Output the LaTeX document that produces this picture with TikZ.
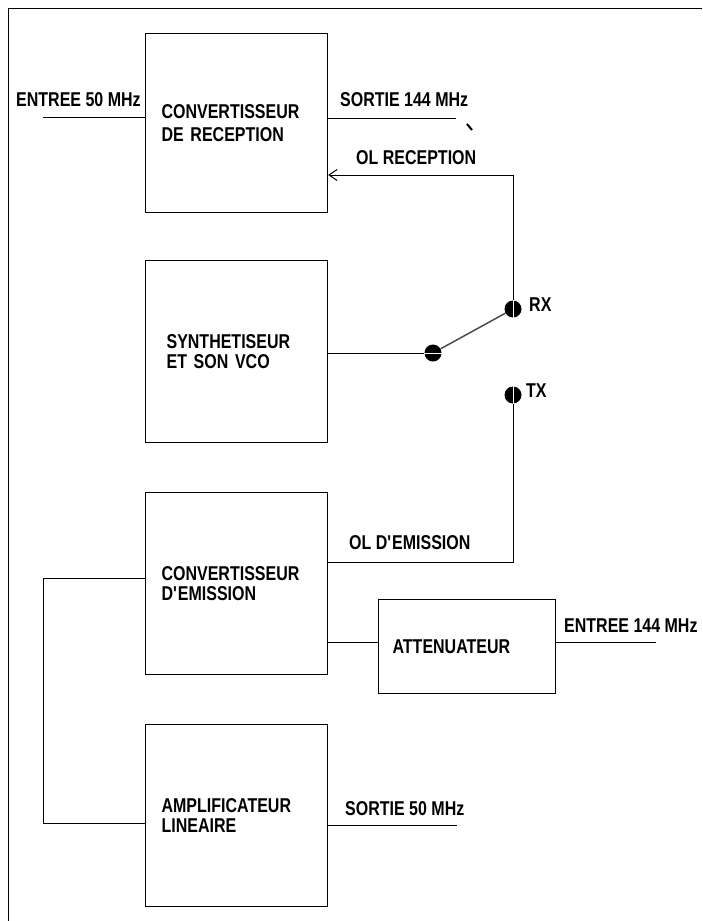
\documentclass[tikz,border=0pt]{standalone}
\usepackage{fontspec}
\setmainfont{Liberation Sans}[FakeStretch=0.8]
\usetikzlibrary{
    arrows.meta,
    calc,
    positioning
}

\begin{document}
\begin{tikzpicture}[x=1pt, y=-1pt,
    bloc/.style={draw, line width=1.2pt, anchor=north west, align=left,
        text width=150pt, inner xsep=16pt, minimum width=182pt, minimum height=182pt,
        font=\fontsize{20}{20}\selectfont\bfseries},
    etiq/.style={anchor=west, inner sep=0pt, font=\fontsize{20}{20}\selectfont\bfseries},
    fil/.style={line width=1pt},
    contact/.style={circle, fill=black, inner sep=0pt, minimum size=17pt}]
    \useasboundingbox (0,0) rectangle (702,921);

    % cadre
    \draw[fil] (8,921) -- (8,8) -- (702,8);

    % blocs
    \node[bloc, minimum height=179pt] (recep) at (145,33) {CONVERTISSEUR\\[3pt]DE RECEPTION};
    \node[bloc, text width=140pt, inner xsep=21pt] (synth) at (145,260) {SYNTHETISEUR\\ET SON VCO};
    \node[bloc] (emis) at (145,492) {CONVERTISSEUR\\D\textquotesingle EMISSION};
    \node[bloc, minimum height=94pt, text width=149pt, inner xsep=14pt, minimum width=177pt] (att) at (378,599) {ATTENUATEUR};
    \node[bloc] (ampli) at (145,724) {AMPLIFICATEUR\\LINEAIRE};

    % commutateur
    \node[contact] (pivot) at (433,353) {};
    \node[contact] (rx) at (513,309) {};
    \node[contact] (tx) at (513,395) {};
    \node[etiq] (rxl) at (529,305) {RX};
    \node[etiq] (txl) at (526,391) {TX};

    % etiquettes
    \node[etiq] (e50) at (16,100) {ENTREE 50 MHz};
    \node[etiq] (s144) at (340,100) {SORTIE 144 MHz};
    \node[etiq] (olr) at (356,158) {OL RECEPTION};
    \node[etiq] (ole) at (349,543) {OL D\textquotesingle EMISSION};
    \node[etiq] (e144) at (564,626) {ENTREE 144 MHz};
    \node[etiq] (s50) at (345,809) {SORTIE 50 MHz};

    \coordinate (in50) at (43,117);
    \coordinate (out144) at (456,118);
    \coordinate (coinr) at (513,175);
    \coordinate (coint) at (513,562);
    \coordinate (in144) at (656,642);
    \coordinate (coinh) at (43,578);
    \coordinate (coinb) at (43,823);
    \coordinate (out50) at (457,825);

    % liaisons
    \draw[fil] (in50) -- (in50 -| recep.west);
    \draw[fil] (recep.east |- out144) -- (out144);
    \draw[line width=2pt] (467,124) -- (472,130);
    \draw[fil, -{Straight Barb[length=8pt, width=11pt]}] (rx) -- (coinr) -- (coinr -| recep.east);
    \draw[fil] (synth.east |- pivot) -- (pivot);
    \draw[line width=1.5pt, black!70] (pivot) -- (rx);
    \draw[fil] (tx) -- (coint) -- (coint -| emis.east);
    \draw[fil] (emis.east |- in144) -- (att.west |- in144);
    \draw[fil] (att.east |- in144) -- (in144);
    \draw[fil] (coinh -| emis.west) -- (coinh) -- (coinb) -- (coinb -| ampli.west);
    \draw[fil] (ampli.east |- out50) -- (out50);

    % reflets des plots
    \draw[white, line width=0.8pt] (pivot.west) -- (pivot.east);
    \draw[white, line width=0.8pt] (rx.north) -- (rx.south);
    \draw[white, line width=0.8pt] (tx.north) -- (tx.south);
\end{tikzpicture}
\end{document}
